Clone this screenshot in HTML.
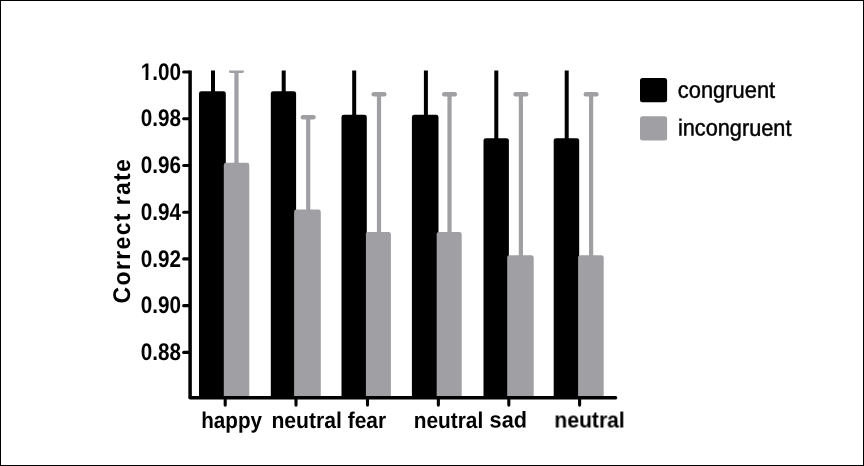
<!DOCTYPE html>
<html lang="en"><head><meta charset="utf-8"><title>Correct rate chart</title>
<style>html,body{margin:0;padding:0;background:#fff;}body{width:864px;height:466px;overflow:hidden;}svg{display:block;}text{font-family:"Liberation Sans",Arial,sans-serif;fill:#000;}</style>
</head><body>
<svg width="864" height="466" viewBox="0 0 864 466">
<rect x="0" y="0" width="864" height="466" fill="#fff"/>
<rect x="0.5" y="0.5" width="863" height="465" fill="none" stroke="#000" stroke-width="1"/>
<defs><clipPath id="plot"><rect x="180" y="70.6" width="460" height="326.4"/></clipPath><filter id="soft" x="0" y="0" width="864" height="466" filterUnits="userSpaceOnUse"><feGaussianBlur stdDeviation="0.62"/></filter></defs>
<g filter="url(#soft)">
<g clip-path="url(#plot)">
<rect x="211.00" y="60" width="4" height="36.2" fill="#000"/>
<rect x="199.00" y="91.2" width="26.80" height="313.8" rx="2.4" fill="#000"/>
<rect x="234.35" y="70.9" width="4.2" height="96.9" fill="#a0a0a4"/>
<line x1="231.15" y1="70.9" x2="241.75" y2="70.9" stroke="#a0a0a4" stroke-width="4.4" stroke-linecap="round"/>
<rect x="223.80" y="162.8" width="25.50" height="242.2" rx="2.4" fill="#a0a0a4"/>
<rect x="281.70" y="60" width="4" height="36.2" fill="#000"/>
<rect x="270.80" y="91.2" width="25.30" height="313.8" rx="2.4" fill="#000"/>
<rect x="306.10" y="117.2" width="4.2" height="97.4" fill="#a0a0a4"/>
<line x1="302.90" y1="117.2" x2="313.50" y2="117.2" stroke="#a0a0a4" stroke-width="4.4" stroke-linecap="round"/>
<rect x="294.10" y="209.6" width="26.70" height="195.4" rx="2.4" fill="#a0a0a4"/>
<rect x="352.20" y="60" width="4" height="59.7" fill="#000"/>
<rect x="341.50" y="114.7" width="25.30" height="290.3" rx="2.4" fill="#000"/>
<rect x="376.90" y="94.2" width="4.2" height="142.7" fill="#a0a0a4"/>
<line x1="373.70" y1="94.2" x2="384.30" y2="94.2" stroke="#a0a0a4" stroke-width="4.4" stroke-linecap="round"/>
<rect x="365.90" y="231.9" width="25.00" height="173.1" rx="2.4" fill="#a0a0a4"/>
<rect x="423.90" y="60" width="4" height="59.7" fill="#000"/>
<rect x="411.90" y="114.7" width="26.60" height="290.3" rx="2.4" fill="#000"/>
<rect x="447.40" y="94.2" width="4.2" height="142.7" fill="#a0a0a4"/>
<line x1="444.20" y1="94.2" x2="454.80" y2="94.2" stroke="#a0a0a4" stroke-width="4.4" stroke-linecap="round"/>
<rect x="436.70" y="231.9" width="25.00" height="173.1" rx="2.4" fill="#a0a0a4"/>
<rect x="494.30" y="60" width="4" height="83.2" fill="#000"/>
<rect x="483.50" y="138.2" width="25.40" height="266.8" rx="2.4" fill="#000"/>
<rect x="518.80" y="94.2" width="4.2" height="166.0" fill="#a0a0a4"/>
<line x1="515.60" y1="94.2" x2="526.20" y2="94.2" stroke="#a0a0a4" stroke-width="4.4" stroke-linecap="round"/>
<rect x="507.20" y="255.2" width="26.50" height="149.8" rx="2.4" fill="#a0a0a4"/>
<rect x="564.70" y="60" width="4" height="83.2" fill="#000"/>
<rect x="553.70" y="138.2" width="25.50" height="266.8" rx="2.4" fill="#000"/>
<rect x="589.00" y="94.2" width="4.2" height="166.0" fill="#a0a0a4"/>
<line x1="585.80" y1="94.2" x2="596.40" y2="94.2" stroke="#a0a0a4" stroke-width="4.4" stroke-linecap="round"/>
<rect x="578.10" y="255.2" width="25.60" height="149.8" rx="2.4" fill="#a0a0a4"/>
</g>
<path d="M190.1 70.4 L190.1 397.7" fill="none" stroke="#000" stroke-width="3.5"/>
<path d="M190.1 397.7 L615.6 397.7" fill="none" stroke="#000" stroke-width="3.5" stroke-linecap="round"/>
<line x1="183.7" y1="72.00" x2="189.5" y2="72.00" stroke="#000" stroke-width="3.1" stroke-linecap="round"/>
<text transform="translate(140.65,79.65) rotate(0.03)" font-size="24" font-weight="bold" textLength="40.25" lengthAdjust="spacingAndGlyphs">1.00</text>
<line x1="183.7" y1="118.73" x2="189.5" y2="118.73" stroke="#000" stroke-width="3.1" stroke-linecap="round"/>
<text transform="translate(140.65,126.38) rotate(0.03)" font-size="24" font-weight="bold" textLength="40.25" lengthAdjust="spacingAndGlyphs">0.98</text>
<line x1="183.7" y1="165.46" x2="189.5" y2="165.46" stroke="#000" stroke-width="3.1" stroke-linecap="round"/>
<text transform="translate(140.65,173.11) rotate(0.03)" font-size="24" font-weight="bold" textLength="40.25" lengthAdjust="spacingAndGlyphs">0.96</text>
<line x1="183.7" y1="212.19" x2="189.5" y2="212.19" stroke="#000" stroke-width="3.1" stroke-linecap="round"/>
<text transform="translate(140.65,219.84) rotate(0.03)" font-size="24" font-weight="bold" textLength="40.25" lengthAdjust="spacingAndGlyphs">0.94</text>
<line x1="183.7" y1="258.92" x2="189.5" y2="258.92" stroke="#000" stroke-width="3.1" stroke-linecap="round"/>
<text transform="translate(140.65,266.57) rotate(0.03)" font-size="24" font-weight="bold" textLength="40.25" lengthAdjust="spacingAndGlyphs">0.92</text>
<line x1="183.7" y1="305.65" x2="189.5" y2="305.65" stroke="#000" stroke-width="3.1" stroke-linecap="round"/>
<text transform="translate(140.65,313.30) rotate(0.03)" font-size="24" font-weight="bold" textLength="40.25" lengthAdjust="spacingAndGlyphs">0.90</text>
<line x1="183.7" y1="352.38" x2="189.5" y2="352.38" stroke="#000" stroke-width="3.1" stroke-linecap="round"/>
<text transform="translate(140.65,360.03) rotate(0.03)" font-size="24" font-weight="bold" textLength="40.25" lengthAdjust="spacingAndGlyphs">0.88</text>
<rect x="140.8" y="76.9" width="4.66" height="4" fill="#fff"/>
<rect x="148.34" y="76.9" width="4.4" height="4" fill="#fff"/>
<line x1="225.20" y1="398" x2="225.20" y2="405.1" stroke="#000" stroke-width="3.1" stroke-linecap="round"/>
<line x1="296.00" y1="398" x2="296.00" y2="405.1" stroke="#000" stroke-width="3.1" stroke-linecap="round"/>
<line x1="367.50" y1="398" x2="367.50" y2="405.1" stroke="#000" stroke-width="3.1" stroke-linecap="round"/>
<line x1="438.35" y1="398" x2="438.35" y2="405.1" stroke="#000" stroke-width="3.1" stroke-linecap="round"/>
<line x1="508.80" y1="398" x2="508.80" y2="405.1" stroke="#000" stroke-width="3.1" stroke-linecap="round"/>
<line x1="579.60" y1="398" x2="579.60" y2="405.1" stroke="#000" stroke-width="3.1" stroke-linecap="round"/>
<text transform="translate(201.20,427.5) rotate(0.03)" font-size="22.8" font-weight="bold" textLength="60.8" lengthAdjust="spacingAndGlyphs">happy</text>
<text transform="translate(271.45,427.5) rotate(0.03)" font-size="22.8" font-weight="bold" textLength="70.5" lengthAdjust="spacingAndGlyphs">neutral</text>
<text transform="translate(347.75,427.5) rotate(0.03)" font-size="22.8" font-weight="bold" textLength="38.3" lengthAdjust="spacingAndGlyphs">fear</text>
<text transform="translate(413.70,427.5) rotate(0.03)" font-size="22.8" font-weight="bold" textLength="69.5" lengthAdjust="spacingAndGlyphs">neutral</text>
<text transform="translate(489.60,427.5) rotate(0.03)" font-size="22.8" font-weight="bold" textLength="37.3" lengthAdjust="spacingAndGlyphs">sad</text>
<text transform="translate(554.35,427.5) rotate(0.03)" font-size="22.8" font-weight="bold" textLength="70.5" lengthAdjust="spacingAndGlyphs">neutral</text>
<text transform="translate(130.0,303.40) rotate(-89.97) scale(0.950,1)" font-size="24.2" font-weight="bold" style="letter-spacing:1.42px">Correct</text>
<text transform="translate(130.0,205.30) rotate(-89.97) scale(0.950,1)" font-size="24.2" font-weight="bold" style="letter-spacing:1.42px">rate</text>
<rect x="640" y="77.9" width="27.1" height="24.4" rx="2.5" fill="#000"/>
<rect x="640" y="116.3" width="27.1" height="24.1" rx="2.5" fill="#a0a0a4"/>
<text transform="translate(677.8,97.7) rotate(0.03)" font-size="23.3" stroke="#000" stroke-width="0.45" textLength="97.4" lengthAdjust="spacingAndGlyphs">congruent</text>
<text transform="translate(677.9,135.6) rotate(0.03)" font-size="23.3" stroke="#000" stroke-width="0.45" textLength="113.6" lengthAdjust="spacingAndGlyphs">incongruent</text>
</g>
</svg>
</body></html>
